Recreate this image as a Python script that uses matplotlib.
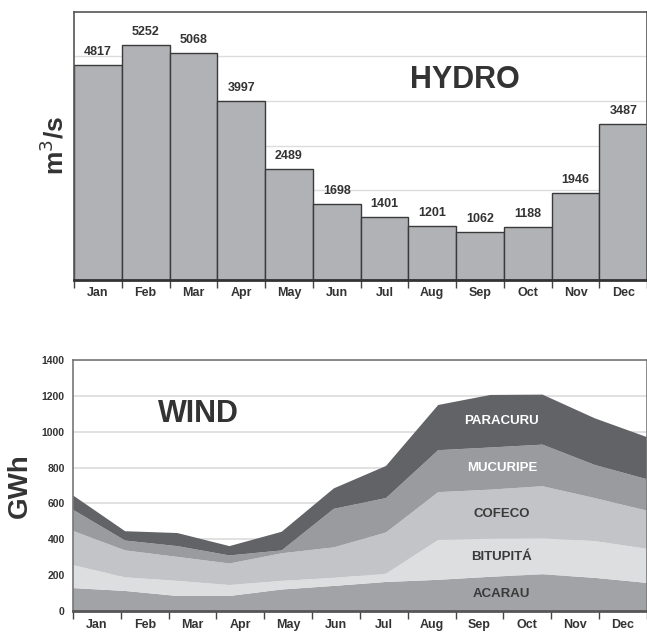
import numpy as np
import matplotlib.pyplot as plt

plt.rcParams['font.family'] = ['Liberation Sans', 'DejaVu Sans']

# Datos
months = ['Jan', 'Feb', 'Mar', 'Apr', 'May', 'Jun', 'Jul', 'Aug', 'Sep', 'Oct', 'Nov', 'Dec']
hydro = [4817, 5252, 5068, 3997, 2489, 1698, 1401, 1201, 1062, 1188, 1946, 3487]

# Eólica por parque (GWh), de abajo hacia arriba
acarau = [128, 112, 84, 84, 120, 140, 162, 174, 191, 205, 185, 157]
bitupita = [128, 76, 84, 61, 48, 45, 46, 222, 212, 200, 205, 190]
cofeco = [191, 150, 134, 120, 154, 170, 230, 267, 274, 291, 240, 213]
mucuripe = [118, 55, 60, 45, 16, 215, 192, 234, 235, 232, 185, 175]
paracuru = [80, 52, 73, 52, 104, 114, 179, 252, 293, 279, 260, 235]
wind_names = ['ACARAU', 'BITUPITÁ', 'COFECO', 'MUCURIPE', 'PARACURU']
wind_colors = ['#a2a3a6', '#dddee0', '#c3c4c7', '#9a9b9e', '#626366']
wind_text = ['#3a3a3a', '#3a3a3a', '#3a3a3a', 'white', 'white']

fig = plt.figure(figsize=(6.47, 6.32), dpi=100)

# ---- HYDRO ----
ax1 = fig.add_axes([0.1144, 0.5573, 0.886, 0.4242])
x = np.arange(len(months))
ax1.bar(x, hydro, width=1.0, color='#b1b2b5', edgecolor='#3a3a3a', linewidth=1.0, zorder=2)
for xi, v in zip(x, hydro):
    ax1.annotate(str(v), (xi, v), xytext=(0, 5), textcoords='offset points',
                 ha='center', va='bottom', fontsize=9, fontweight='bold', color='#333333')
ax1.set_xlim(-0.5, 11.5)
ax1.set_ylim(0, 6000)
ax1.set_yticks(np.arange(1000, 6000, 1000))
ax1.yaxis.grid(True, color='#dcdcdc', linewidth=1.0, zorder=0)
ax1.set_axisbelow(True)
ax1.tick_params(axis='y', length=0, labelleft=False)
ax1.set_xticks(np.arange(-0.5, 12, 1))
ax1.set_xticklabels([])
ax1.set_xticks(x, minor=True)
ax1.set_xticklabels(months, minor=True, fontsize=9, fontweight='bold', color='#333333')
ax1.tick_params(axis='x', which='major', direction='out', length=6, width=1, color='#444444')
ax1.tick_params(axis='x', which='minor', length=0, pad=5)
for s in ax1.spines.values():
    s.set_color('#555555')
    s.set_linewidth(1.2)
ax1.spines['bottom'].set_linewidth(2)
ax1.spines['bottom'].set_color('#333333')
ax1.set_ylabel('m$^3$/s', fontsize=19, fontweight='bold', color='#333333', labelpad=4)
ax1.text(7.68, 4470, 'HYDRO', ha='center', va='center', fontsize=22,
         fontweight='bold', color='#333333')

# ---- WIND ----
ax2 = fig.add_axes([0.1128, 0.0332, 0.887, 0.3972])
xw = np.arange(len(months))
layers = [acarau, bitupita, cofeco, mucuripe, paracuru]
ax2.stackplot(xw, *layers, colors=wind_colors, linewidth=0, zorder=2)
ax2.set_xlim(0, 11)
ax2.set_ylim(0, 1400)
ax2.set_yticks(np.arange(0, 1401, 200))
ax2.set_yticklabels([str(v) for v in range(0, 1401, 200)], fontsize=7.5,
                    fontweight='bold', color='#333333')
ax2.tick_params(axis='y', length=0, pad=6)
ax2.yaxis.grid(True, color='#dcdcdc', linewidth=1.2, zorder=0)
ax2.set_axisbelow(True)
step = 11 / 12
ax2.set_xticks(np.arange(13) * step)
ax2.set_xticklabels([])
ax2.set_xticks((np.arange(12) + 0.5) * step, minor=True)
ax2.set_xticklabels(months, minor=True, fontsize=9, fontweight='bold', color='#333333')
ax2.tick_params(axis='x', which='major', direction='out', length=6, width=1, color='#444444')
ax2.tick_params(axis='x', which='minor', length=0, pad=6)
for s in ax2.spines.values():
    s.set_color('#777777')
    s.set_linewidth(1.2)
ax2.spines['bottom'].set_linewidth(2)
ax2.spines['bottom'].set_color('#555555')
ax2.set_ylabel('GWh', fontsize=20, fontweight='bold', color='#333333', labelpad=6)
ax2.text(2.4, 1099, 'WIND', ha='center', va='center', fontsize=22,
         fontweight='bold', color='#333333')

# etiquetas de cada parque, en el centro de su franja
cum = np.cumsum(np.array(layers), axis=0)
lab_x = 8.22
for k, name in enumerate(wind_names):
    top = np.interp(lab_x, xw, cum[k])
    bot = np.interp(lab_x, xw, cum[k - 1]) if k > 0 else 0
    ax2.text(lab_x, (top + bot) / 2, name, ha='center', va='center', fontsize=9.5,
             fontweight='bold', color=wind_text[k], zorder=3)

fig.savefig('out.png', dpi=100)
